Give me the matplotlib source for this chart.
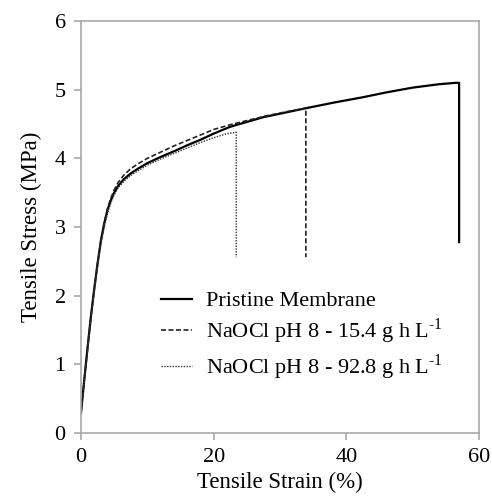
import matplotlib
matplotlib.use('Agg')
import matplotlib.pyplot as plt

plt.rcParams['font.family'] = ['Liberation Serif', 'DejaVu Serif']
plt.rcParams['mathtext.fontset'] = 'custom'
plt.rcParams['mathtext.rm'] = 'Liberation Serif'

# pristine membrane
x_pr = [0, 0.5, 1, 1.5, 2, 2.5, 3, 3.5, 4, 4.5, 5, 5.6, 6.5, 7.5, 8.6, 10, 12, 14.2,
        16, 18, 20, 22.5, 25, 27.5, 30, 33.9, 38, 42.5, 46, 50, 54, 56.5, 57, 57]
y_pr = [0.29, 0.78, 1.25, 1.7, 2.1, 2.47, 2.8, 3.05, 3.25, 3.39, 3.5, 3.6, 3.7, 3.78,
        3.85, 3.93, 4.02, 4.11, 4.19, 4.27, 4.36, 4.46, 4.53, 4.60, 4.65, 4.73,
        4.81, 4.89, 4.96, 5.03, 5.08, 5.10, 5.10, 2.78]

# NaOCl pH 8 - 15.4
x_d1 = [0, 0.5, 1, 1.5, 2, 2.5, 3, 3.5, 4, 4.5, 5, 5.6, 6.5, 7.5, 8.6, 10, 12, 14,
        16, 18, 20, 22.5, 25, 28, 31, 33.9, 33.9]
y_d1 = [0.29, 0.78, 1.25, 1.7, 2.1, 2.47, 2.8, 3.06, 3.27, 3.42, 3.54, 3.65, 3.76,
        3.85, 3.92, 4.0, 4.09, 4.18, 4.26, 4.34, 4.42, 4.49, 4.55, 4.62, 4.68,
        4.73, 2.56]

# NaOCl pH 8 - 92.8
x_d2 = [0, 0.5, 1, 1.5, 2, 2.5, 3, 3.5, 4, 4.5, 5, 5.6, 6.5, 7.5, 8.6, 10, 12, 14,
        16, 18, 20, 22, 23.4, 23.4]
y_d2 = [0.29, 0.75, 1.2, 1.65, 2.05, 2.42, 2.75, 3.0, 3.2, 3.35, 3.47, 3.57, 3.67,
        3.75, 3.82, 3.9, 3.99, 4.07, 4.15, 4.23, 4.3, 4.36, 4.38, 2.56]

labels = ['Pristine Membrane',
          'NaOCl pH 8 - 15.4 g h L$^{\\mathregular{\u20101}}$',
          'NaOCl pH 8 - 92.8 g h L$^{\\mathregular{\u20101}}$']

fig = plt.figure(figsize=(4.92, 4.97), dpi=100)
ax = fig.add_axes([0.1646, 0.1288, 0.809, 0.8289])

ax.plot(x_pr, y_pr, color='black', lw=1.6, ls='-', label=labels[0])
ax.plot(x_d1, y_d1, color='#222222', lw=1.2, ls=(0, (3, 1.5)), label=labels[1])
ax.plot(x_d2, y_d2, color='#333333', lw=1.0, ls=(0, (1, 1)), label=labels[2])

ax.set_xlim(0, 60)
ax.set_ylim(0, 6)
ax.set_xticks([0, 20, 40, 60])
ax.set_yticks([0, 1, 2, 3, 4, 5, 6])
for s in ax.spines.values():
    s.set_color('#a8a8a8')
    s.set_linewidth(1.2)
ax.tick_params(direction='out', length=5, width=1.2, color='#a8a8a8',
               labelsize=16, labelcolor='black', pad=6)
ax.set_xlabel('Tensile Strain (%)', fontsize=16.5, labelpad=3)
ax.set_ylabel('Tensile Stress (MPa)', fontsize=16.5, labelpad=9)

ax.legend(loc='center left', bbox_to_anchor=(0.2, 0.235), frameon=False,
          fontsize=16, handlelength=1.4, handletextpad=0.65, labelspacing=0.25,
          borderpad=0, borderaxespad=0)

fig.savefig('out.png', dpi=100)
